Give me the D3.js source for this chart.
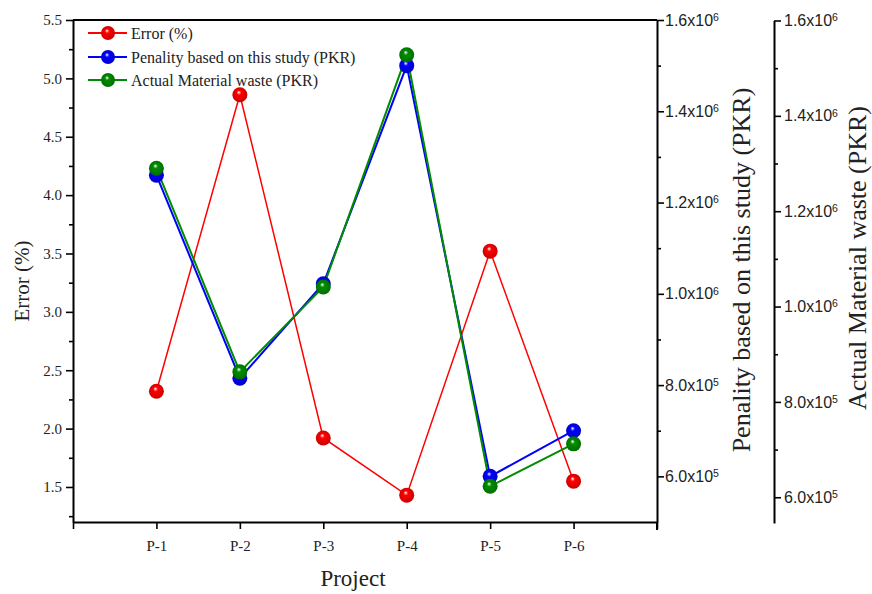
<!DOCTYPE html>
<html><head><meta charset="utf-8">
<script src="https://cdn.jsdelivr.net/npm/d3@7"></script>
<style>body{margin:0;background:#fff}</style>
</head><body>
<svg id="c" width="872" height="594"></svg>
<script>
const projects = ["P-1","P-2","P-3","P-4","P-5","P-6"];
const errorPct = [2.32, 4.86, 1.92, 1.43, 3.52, 1.55];
const penalty = [1.26e6, 8.15e5, 1.022e6, 1.50e6, 6.0e5, 7.0e5];
const actualWaste = [1.29e6, 8.63e5, 1.041e6, 1.528e6, 6.23e5, 7.12e5];
const errorTicks = [1.5, 2.0, 2.5, 3.0, 3.5, 4.0, 4.5, 5.0, 5.5];
const errorMinor = [1.25, 1.75, 2.25, 2.75, 3.25, 3.75, 4.25, 4.75, 5.25];
const pkrTicks = [6e5, 8e5, 1.0e6, 1.2e6, 1.4e6, 1.6e6];
const pkrMinor = [7e5, 9e5, 1.1e6, 1.3e6, 1.5e6];
const seriesNames = ["Error (%)", "Penality based on this study (PKR)", "Actual Material waste (PKR)"];
const seriesColors = ["#ff0000", "#0000ff", "#008c00"];

const svg = d3.select("#c");
const L = 73, R = 657, T = 20, B = 522;
const A2 = 774;
const x = d3.scaleLinear().domain([0, 7]).range([L, R]);
const yE = d3.scaleLinear().domain([1.2, 5.5]).range([B, T]);
const yP = d3.scaleLinear().domain([5e5, 1.6e6]).range([B, T]);
const yA = d3.scaleLinear().domain([5.46e5, 1.6e6]).range([523, 20.5]);
const serif = "'Liberation Serif','Times New Roman',serif";
const sans = "'Liberation Sans',Arial,sans-serif";

const defs = svg.append("defs");
seriesColors.forEach((c, i) => {
  const g = defs.append("radialGradient").attr("id", "g" + i)
    .attr("cx", "50%").attr("cy", "50%").attr("r", "55%").attr("fx", "42%").attr("fy", "32%");
  g.append("stop").attr("offset", "0%").attr("stop-color", "#ffffff");
  g.append("stop").attr("offset", "28%").attr("stop-color", c);
  g.append("stop").attr("offset", "100%").attr("stop-color", d3.color(c).darker(0.7));
});

function styleAxis(g, w) {
  g.selectAll(".domain").attr("stroke", "#000").attr("stroke-width", w);
  g.selectAll(".tick line").attr("stroke", "#000").attr("stroke-width", 1.6);
}

// left axis
const gL = svg.append("g").attr("transform", `translate(${L},0)`)
  .call(d3.axisLeft(yE).tickValues(errorTicks).tickSize(7).tickSizeOuter(0).tickPadding(4).tickFormat(d3.format(".1f")));
styleAxis(gL, 2);
gL.selectAll("text").attr("font-family", serif).attr("font-size", 15).attr("fill", "#222");
svg.append("g").attr("transform", `translate(${L},0)`)
  .call(d3.axisLeft(yE).tickValues(errorMinor).tickSize(4).tickSizeOuter(0).tickFormat(""))
  .call(g => g.select(".domain").remove())
  .call(g => g.selectAll("line").attr("stroke", "#000").attr("stroke-width", 1.6));

// bottom axis
const gB = svg.append("g").attr("transform", `translate(0,${B})`)
  .call(d3.axisBottom(x).tickValues([0, 1, 2, 3, 4, 5, 6, 7]).tickSize(7).tickSizeOuter(0).tickPadding(11)
    .tickFormat(i => projects[i - 1] || ""));
styleAxis(gB, 2.2);
gB.selectAll("text").attr("font-family", serif).attr("font-size", 15).attr("fill", "#222");

// top frame
svg.append("line").attr("x1", L).attr("x2", R).attr("y1", T).attr("y2", T).attr("stroke", "#000").attr("stroke-width", 2);

function sciLabels(g) {
  g.selectAll(".tick text").each(function(d) {
    const e = Math.floor(Math.log10(d) + 1e-9);
    const m = d / Math.pow(10, e);
    const t = d3.select(this).text(null).attr("font-family", sans).attr("font-size", 16).attr("fill", "#222");
    t.append("tspan").text(m.toFixed(1) + "x10");
    t.append("tspan").attr("dy", "-0.45em").attr("font-size", 10.5).text(e);
  });
}

// right axis 1
const gP = svg.append("g").attr("transform", `translate(${R},0)`)
  .call(d3.axisRight(yP).tickValues(pkrTicks).tickSize(7).tickSizeOuter(0).tickPadding(1));
styleAxis(gP, 2);
sciLabels(gP);
svg.append("g").attr("transform", `translate(${R},0)`)
  .call(d3.axisRight(yP).tickValues(pkrMinor).tickSize(4).tickSizeOuter(0).tickFormat(""))
  .call(g => g.select(".domain").remove())
  .call(g => g.selectAll("line").attr("stroke", "#000").attr("stroke-width", 1.6));
svg.append("line").attr("x1", R).attr("x2", R).attr("y1", B).attr("y2", B + 8).attr("stroke", "#000").attr("stroke-width", 2);

// right axis 2
const gA = svg.append("g").attr("transform", `translate(${A2},0)`)
  .call(d3.axisRight(yA).tickValues(pkrTicks).tickSize(7).tickSizeOuter(0).tickPadding(3));
styleAxis(gA, 2);
sciLabels(gA);
svg.append("g").attr("transform", `translate(${A2},0)`)
  .call(d3.axisRight(yA).tickValues(pkrMinor).tickSize(4).tickSizeOuter(0).tickFormat(""))
  .call(g => g.select(".domain").remove())
  .call(g => g.selectAll("line").attr("stroke", "#000").attr("stroke-width", 1.6));

// axis titles
svg.append("text").attr("transform", `translate(29,281) rotate(-90)`)
  .attr("text-anchor", "middle").attr("font-family", serif).attr("font-size", 21).attr("fill", "#222").text("Error (%)");
svg.append("text").attr("transform", `translate(750,270) rotate(-90)`)
  .attr("text-anchor", "middle").attr("font-family", serif).attr("font-size", 26).attr("fill", "#222").text(seriesNames[1]);
svg.append("text").attr("transform", `translate(866,258) rotate(-90)`)
  .attr("text-anchor", "middle").attr("font-family", serif).attr("font-size", 26).attr("fill", "#222").text(seriesNames[2]);
svg.append("text").attr("x", 353).attr("y", 586)
  .attr("text-anchor", "middle").attr("font-family", serif).attr("font-size", 23).attr("fill", "#222").text("Project");

// series
const series = [
  {vals: errorPct, y: yE, w: 1.5},
  {vals: penalty, y: yP, w: 2},
  {vals: actualWaste, y: yA, w: 2}
];
series.forEach((s, i) => {
  const line = d3.line().x((d, j) => x(j + 1)).y(d => s.y(d));
  svg.append("path").datum(s.vals).attr("d", line).attr("fill", "none")
    .attr("stroke", seriesColors[i]).attr("stroke-width", s.w);
});
series.forEach((s, i) => {
  svg.append("g").selectAll("circle").data(s.vals).join("circle")
    .attr("cx", (d, j) => x(j + 1)).attr("cy", d => s.y(d)).attr("r", 7.5)
    .attr("fill", `url(#g${i})`);
});

// legend
const legY = [33, 57, 80];
seriesNames.forEach((n, i) => {
  const g = svg.append("g").attr("transform", `translate(0,${legY[i]})`);
  g.append("line").attr("x1", 88).attr("x2", 127).attr("y1", 0).attr("y2", 0)
    .attr("stroke", seriesColors[i]).attr("stroke-width", 2);
  g.append("circle").attr("cx", 108).attr("cy", 0).attr("r", 7).attr("fill", `url(#g${i})`);
  g.append("text").attr("x", 131).attr("y", 5.5).attr("font-family", serif).attr("font-size", 16)
    .attr("fill", "#222").text(n);
});
</script>
</body></html>
